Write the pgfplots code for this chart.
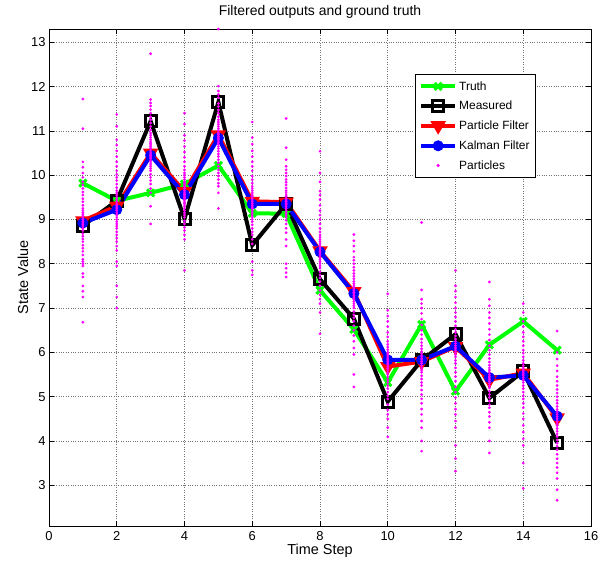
\documentclass[border=0pt]{standalone}
\usepackage{fontspec}
\setmainfont{Liberation Sans}
\usepackage{pgfplots}
\pgfplotsset{compat=1.18}
\usepackage{pgfplotstable}
\usetikzlibrary{calc}
\definecolor{mag}{RGB}{255,0,255}
\definecolor{grn}{RGB}{0,255,0}

\pgfplotstableread{
x y
1 9.82
2 9.42
3 9.60
4 9.80
5 10.22
6 9.14
7 9.13
8 7.40
9 6.52
10 5.32
11 6.63
12 5.12
13 6.17
14 6.70
15 6.05
}\truth

\pgfplotstableread{
x y
1 8.86
2 9.42
3 11.22
4 9.01
5 11.65
6 8.42
7 9.35
8 7.65
9 6.76
10 4.89
11 5.82
12 6.41
13 4.97
14 5.57
15 3.96
}\measured

\pgfplotstableread{
x y
1 8.97
2 9.30
3 10.50
4 9.63
5 10.91
6 9.41
7 9.39
8 8.29
9 7.37
10 5.68
11 5.79
12 6.13
13 5.38
14 5.53
15 4.52
}\pf

\pgfplotstableread{
x y
1 8.92
2 9.22
3 10.45
4 9.56
5 10.84
6 9.35
7 9.35
8 8.27
9 7.33
10 5.83
11 5.83
12 6.14
13 5.43
14 5.48
15 4.56
}\kf

\pgfplotstableread{
x y
1 6.68
1 7.25
1 7.38
1 7.50
1 7.70
1 7.78
1 7.95
1 8.05
1 8.20
1 8.35
1 8.50
1 8.62
1 8.75
1 8.85
1 8.92
1 9.00
1 9.08
1 9.15
1 9.25
1 9.40
1 9.55
1 9.70
1 9.85
1 10.05
1 10.30
1 11.05
1 11.72
2 7.00
2 7.25
2 7.50
2 7.95
2 8.05
2 8.30
2 8.50
2 8.65
2 8.80
2 8.90
2 9.00
2 9.10
2 9.20
2 9.28
2 9.35
2 9.45
2 9.55
2 9.65
2 9.80
2 9.95
2 10.10
2 10.30
2 10.55
2 10.80
2 11.10
2 11.37
3 8.90
3 9.30
3 9.60
3 9.80
3 9.95
3 10.10
3 10.20
3 10.30
3 10.38
3 10.45
3 10.52
3 10.60
3 10.68
3 10.75
3 10.85
3 10.95
3 11.10
3 11.25
3 11.40
3 11.56
3 11.71
3 12.74
4 7.85
4 8.55
4 8.75
4 8.90
4 9.05
4 9.15
4 9.25
4 9.35
4 9.42
4 9.50
4 9.56
4 9.62
4 9.70
4 9.78
4 9.85
4 9.95
4 10.05
4 10.20
4 10.40
4 10.65
4 10.90
4 11.15
4 11.40
5 9.25
5 9.60
5 9.75
5 9.90
5 10.05
5 10.20
5 10.35
5 10.48
5 10.60
5 10.70
5 10.80
5 10.88
5 10.95
5 11.05
5 11.15
5 11.25
5 11.40
5 11.55
5 11.75
5 11.90
5 12.01
5 13.30
6 7.75
6 7.85
6 8.05
6 8.45
6 8.65
6 8.80
6 8.95
6 9.05
6 9.15
6 9.25
6 9.32
6 9.40
6 9.48
6 9.55
6 9.65
6 9.75
6 9.90
6 10.10
6 10.30
6 10.55
6 10.85
6 11.20
7 7.70
7 7.80
7 7.90
7 8.00
7 8.40
7 8.70
7 8.90
7 9.05
7 9.15
7 9.25
7 9.33
7 9.40
7 9.48
7 9.55
7 9.65
7 9.78
7 9.90
7 10.05
7 10.20
7 10.62
7 11.28
8 6.42
8 6.90
8 7.20
8 7.40
8 7.60
8 7.75
8 7.90
8 8.00
8 8.10
8 8.20
8 8.28
8 8.36
8 8.45
8 8.55
8 8.65
8 8.80
8 9.00
8 9.20
8 9.45
8 9.64
8 10.05
8 10.54
9 5.22
9 5.50
9 5.95
9 6.25
9 6.50
9 6.70
9 6.85
9 7.00
9 7.10
9 7.20
9 7.28
9 7.35
9 7.43
9 7.50
9 7.60
9 7.72
9 7.85
9 8.00
9 8.15
9 8.40
9 8.66
10 4.09
10 4.30
10 4.50
10 4.70
10 4.95
10 5.10
10 5.25
10 5.38
10 5.50
10 5.60
10 5.68
10 5.75
10 5.83
10 5.92
10 6.00
10 6.12
10 6.25
10 6.45
10 6.70
10 6.95
10 7.32
11 3.77
11 4.00
11 4.30
11 4.60
11 4.85
11 5.05
11 5.25
11 5.40
11 5.55
11 5.65
11 5.75
11 5.83
11 5.92
11 6.02
11 6.15
11 6.30
11 6.50
11 6.75
11 7.00
11 7.20
11 7.41
11 8.93
12 3.32
12 3.60
12 3.90
12 4.30
12 4.60
12 4.85
12 5.10
12 5.35
12 5.55
12 5.75
12 5.90
12 6.00
12 6.10
12 6.20
12 6.30
12 6.45
12 6.60
12 6.80
12 7.00
12 7.25
12 7.50
12 7.85
13 3.73
13 4.00
13 4.30
13 4.55
13 4.75
13 4.90
13 5.05
13 5.20
13 5.30
13 5.38
13 5.46
13 5.55
13 5.65
13 5.78
13 5.95
13 6.15
13 6.40
13 6.65
13 6.90
13 7.20
13 7.59
14 2.93
14 3.50
14 3.90
14 4.20
14 4.50
14 4.75
14 4.95
14 5.10
14 5.25
14 5.38
14 5.48
14 5.56
14 5.65
14 5.75
14 5.90
14 6.05
14 6.25
14 6.45
14 6.70
14 7.10
15 2.66
15 2.90
15 3.15
15 3.40
15 3.60
15 3.80
15 3.95
15 4.10
15 4.22
15 4.35
15 4.45
15 4.55
15 4.65
15 4.78
15 4.92
15 5.08
15 5.25
15 5.45
15 5.70
15 6.00
15 6.48
}\particles

\pgfplotstableread{
x y
1 8.00
1 8.10
1 8.28
1 8.42
1 8.56
1 8.68
1 8.80
1 8.88
1 8.96
1 9.04
1 9.12
1 9.20
1 9.32
1 9.47
1 9.62
1 9.78
1 9.95
1 10.18
2 8.40
2 8.58
2 8.72
2 8.85
2 8.95
2 9.05
2 9.15
2 9.24
2 9.32
2 9.40
2 9.50
2 9.60
2 9.72
2 9.88
2 10.02
2 10.20
2 10.42
2 10.68
3 9.70
3 9.88
3 10.02
3 10.15
3 10.25
3 10.34
3 10.41
3 10.48
3 10.56
3 10.64
3 10.71
3 10.80
3 10.90
3 11.02
3 11.18
3 11.32
3 11.48
3 11.63
4 8.65
4 8.82
4 8.97
4 9.10
4 9.20
4 9.30
4 9.38
4 9.46
4 9.53
4 9.59
4 9.66
4 9.74
4 9.82
4 9.90
4 10.00
4 10.12
4 10.30
4 10.52
4 10.78
5 9.82
5 9.98
5 10.12
5 10.28
5 10.42
5 10.54
5 10.65
5 10.75
5 10.84
5 10.92
5 11.00
5 11.10
5 11.20
5 11.32
5 11.47
5 11.62
5 11.82
6 8.55
6 8.72
6 8.88
6 9.00
6 9.10
6 9.20
6 9.28
6 9.36
6 9.44
6 9.52
6 9.60
6 9.70
6 9.82
6 9.98
6 10.20
6 10.42
6 10.70
7 8.55
7 8.80
7 8.98
7 9.10
7 9.20
7 9.29
7 9.36
7 9.44
7 9.52
7 9.60
7 9.71
7 9.84
7 9.98
7 10.12
7 10.35
8 7.10
8 7.30
8 7.50
8 7.68
8 7.82
8 7.95
8 8.05
8 8.15
8 8.24
8 8.32
8 8.40
8 8.50
8 8.60
8 8.72
8 8.90
8 9.10
8 9.32
8 9.55
8 9.85
9 6.10
9 6.38
9 6.60
9 6.78
9 6.92
9 7.05
9 7.15
9 7.24
9 7.32
9 7.39
9 7.46
9 7.55
9 7.66
9 7.78
9 7.92
9 8.08
9 8.28
9 8.52
10 4.60
10 4.82
10 5.02
10 5.18
10 5.32
10 5.44
10 5.55
10 5.64
10 5.72
10 5.79
10 5.87
10 5.96
10 6.06
10 6.18
10 6.35
10 6.58
10 6.82
11 4.45
11 4.72
11 4.95
11 5.15
11 5.32
11 5.47
11 5.60
11 5.70
11 5.79
11 5.87
11 5.97
11 6.08
11 6.22
11 6.40
11 6.62
11 6.88
11 7.10
12 4.45
12 4.72
12 4.98
12 5.22
12 5.45
12 5.65
12 5.82
12 5.95
12 6.05
12 6.15
12 6.25
12 6.37
12 6.52
12 6.70
12 6.90
12 7.12
12 7.38
13 4.42
13 4.65
13 4.82
13 4.98
13 5.12
13 5.25
13 5.34
13 5.42
13 5.50
13 5.60
13 5.71
13 5.86
13 6.05
13 6.28
13 6.52
13 6.78
13 7.05
14 4.05
14 4.35
14 4.62
14 4.85
14 5.02
14 5.18
14 5.32
14 5.43
14 5.52
14 5.60
14 5.70
14 5.82
14 5.98
14 6.15
14 6.35
14 6.58
14 6.90
15 3.28
15 3.50
15 3.70
15 3.88
15 4.02
15 4.16
15 4.28
15 4.40
15 4.50
15 4.60
15 4.71
15 4.85
15 5.00
15 5.16
15 5.35
15 5.58
15 5.85
}\particlesB

\begin{document}
\begin{tikzpicture}
\begin{axis}[
  name=ax,
  scale only axis,
  width=542bp, height=497bp,
  xmin=0, xmax=16, ymin=2.08, ymax=13.30,
  xtick={0,2,...,16}, ytick={3,4,...,13},
  tick align=inside,
  major tick length=5bp,
  tick style={black, line width=0.6pt},
  axis line style={black, line width=0.8pt},
  grid=major,
  major grid style={black!55, dotted, line width=0.7pt},
  /pgf/number format/assume math mode=true,
  tick label style={font=\fontsize{13}{15}\selectfont},
  xticklabel style={yshift=-2bp},
  title={Filtered outputs and ground truth},
  title style={font=\fontsize{14}{16}\selectfont, yshift=1bp},
  xlabel={Time Step},
  ylabel={State Value},
  label style={font=\fontsize{14.5}{16}\selectfont},
  xlabel style={yshift=3bp},
  ylabel style={yshift=-4bp},
  legend cell align=left,
  legend style={at={(0.8985,0.9095)}, anchor=north east,
    font=\fontsize{12}{13}\selectfont, draw=black, line width=0.8pt,
    row sep=5.5bp, inner xsep=4bp, inner ysep=5bp},
  legend image code/.code={\draw[mark repeat=2,mark phase=2] plot coordinates {(0cm,0cm) (0.6cm,0cm) (1.2cm,0cm)};},
]
\addplot[color=grn, line width=4bp, mark=x, mark size=5bp, mark options={line width=3bp}] table {\truth};
\addlegendentry{Truth}
\addplot[color=black, line width=4bp, mark=square, mark size=5.5bp, mark options={line width=3bp}] table {\measured};
\addlegendentry{Measured}
\addplot[color=red, line width=4bp, mark=triangle*, mark size=7.5bp, mark options={rotate=180, line width=1.5bp}] table {\pf};
\addlegendentry{Particle Filter}
\addplot[color=blue, line width=4bp, mark=*, mark size=5bp, mark options={line width=1bp}] table {\kf};
\addlegendentry{Kalman Filter}
\addplot[only marks, color=mag, mark=*, mark size=1.2bp, mark options={draw=none, fill=mag}] table {\particles};
\addlegendentry{Particles}
\addplot[only marks, color=mag, mark=*, mark size=1.2bp, mark options={draw=none, fill=mag}, forget plot] table {\particlesB};
\end{axis}
\pgfresetboundingbox
\path[use as bounding box] ($(ax.south west)+(-49bp,-39bp)$) rectangle ($(ax.north east)+(18bp,29bp)$);
\end{tikzpicture}
\end{document}
